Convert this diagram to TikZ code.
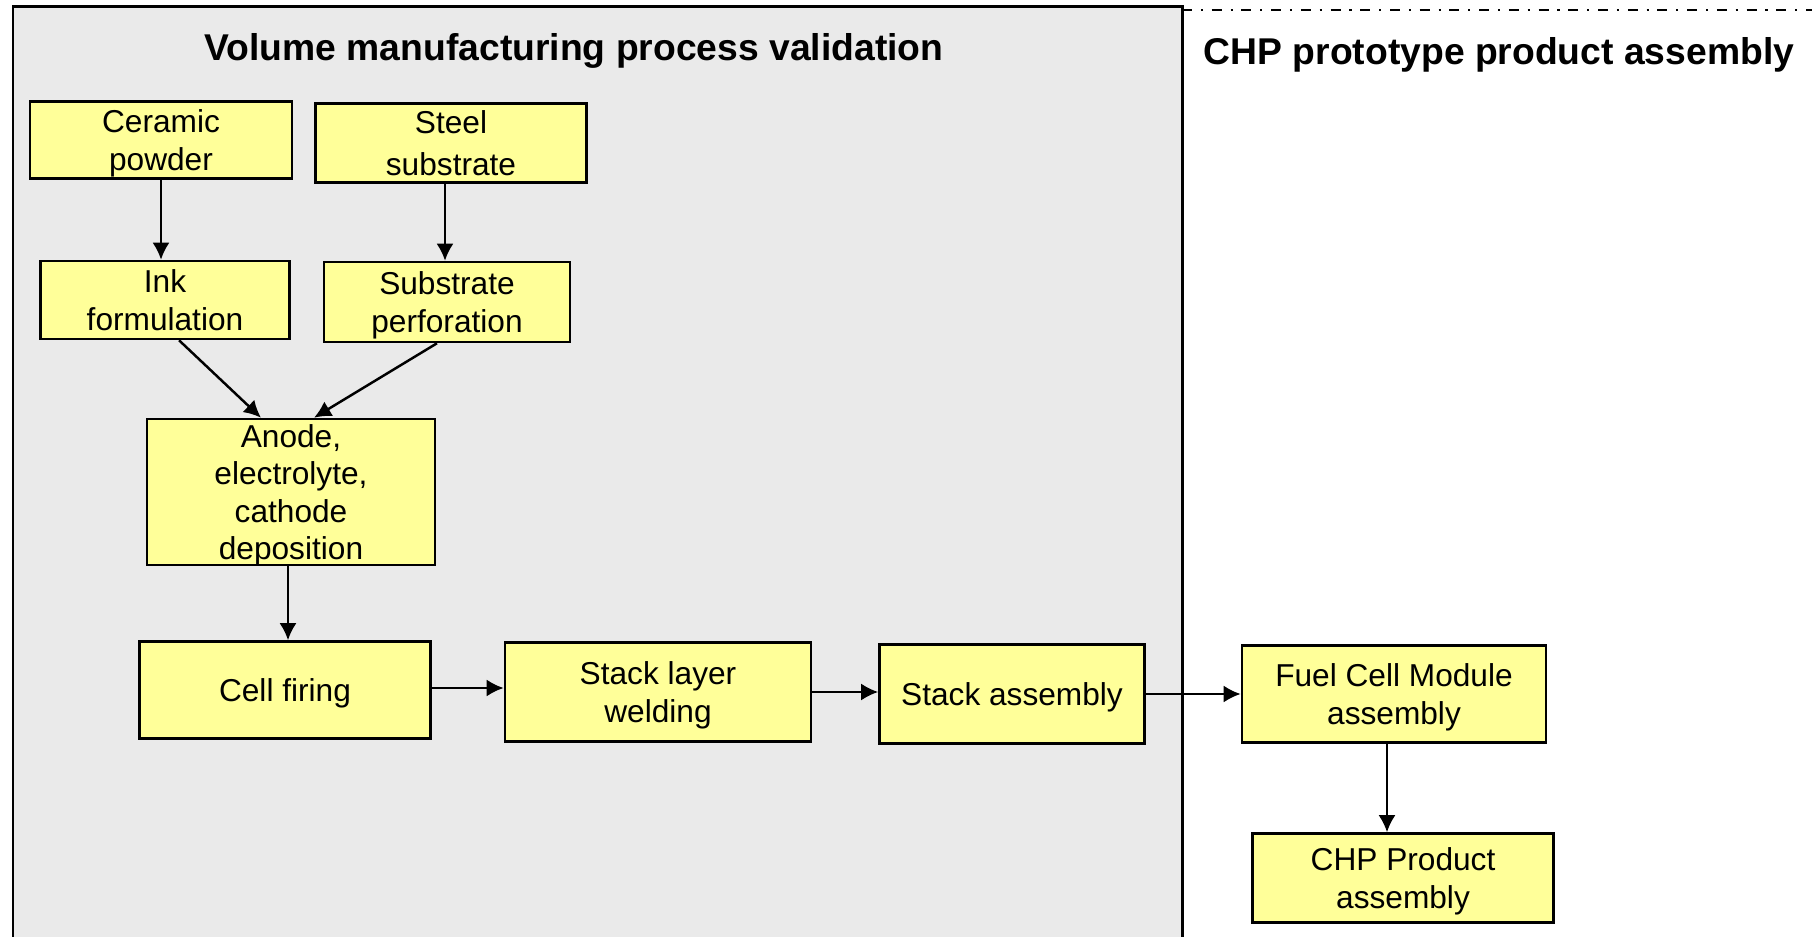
\documentclass[tikz,border=0pt]{standalone}
\usepackage{fontspec}
\setmainfont{Liberation Sans}
\usetikzlibrary{arrows.meta,calc}
\definecolor{BoxClr}{HTML}{FFFF99}
\definecolor{PanelClr}{HTML}{EAEAEA}

\begin{document}
\begin{tikzpicture}[x=0.01cm,y=-0.01cm,
  procbox/.style={draw=black,line width=0.7pt,fill=BoxClr,align=center,inner sep=0pt,
    font=\fontsize{9}{10.6}\selectfont,text depth=-1.3pt},
  flow/.style={line width=0.7pt,-{Latex[length=0.17cm,width=0.17cm]}},
  paneltitle/.style={font=\fontsize{10.6}{12}\selectfont\bfseries}]
\useasboundingbox (0,0) rectangle (1812,937);

\draw[line width=0.85pt,fill=PanelClr] (13,950) -- (13,7) -- (1182,7) -- (1182,950);
\draw[line width=0.8pt,dash pattern=on 2.85pt off 2.5pt on 0.6pt off 2.5pt] (1182,10) -- (1812,10);

\node[paneltitle] (tvol) at (574,51) {Volume manufacturing process validation};
\node[paneltitle] (tchp) at (1499,55) {CHP prototype product assembly};

\node[procbox,minimum width=2.62cm,minimum height=0.77cm] (ceramic) at (161,140) {Ceramic\\powder};
\node[procbox,minimum width=2.71cm,minimum height=0.79cm] (steel) at (451,143) {Steel\\[1.3pt]substrate};
\node[procbox,minimum width=2.49cm,minimum height=0.78cm] (ink) at (165,300) {Ink\\formulation};
\node[procbox,minimum width=2.46cm,minimum height=0.80cm] (perf) at (447,302) {Substrate\\perforation};
\node[procbox,minimum width=2.88cm,minimum height=1.46cm] (anode) at (291,492) {Anode,\\electrolyte,\\cathode\\deposition};
\node[procbox,minimum width=2.91cm,minimum height=0.97cm] (firing) at (285,690) {Cell firing};
\node[procbox,minimum width=3.06cm,minimum height=0.99cm] (welding) at (658,692) {Stack layer\\welding};
\node[procbox,minimum width=2.65cm,minimum height=0.99cm] (stack) at (1012,694) {Stack assembly};
\node[procbox,minimum width=3.04cm,minimum height=0.97cm] (fcm) at (1394,694) {Fuel Cell Module\\assembly};
\node[procbox,minimum width=3.01cm,minimum height=0.89cm] (chp) at (1403,878) {CHP Product\\assembly};

\draw[flow] (ceramic.south) -- (ceramic.south |- ink.north);
\draw[flow] ([xshift=-0.06cm]steel.south) -- ([xshift=-0.06cm]steel.south |- perf.north);
\draw[flow] ([xshift=0.14cm]ink.south) -- ([xshift=-0.30cm]anode.north);
\draw[flow] ([xshift=-0.10cm]perf.south) -- ([xshift=0.23cm]anode.north);
\draw[flow] ([xshift=-0.03cm]anode.south) -- ([xshift=-0.03cm]anode.south |- firing.north);
\draw[flow] ([yshift=0.02cm]firing.east) -- ([yshift=0.02cm]firing.east -| welding.west);
\draw[flow] (welding.east) -- (welding.east -| stack.west);
\draw[flow] (stack.east) -- (stack.east -| fcm.west);
\draw[flow] ([xshift=-0.07cm]fcm.south) -- ([xshift=-0.07cm]fcm.south |- chp.north);

\end{tikzpicture}
\end{document}
